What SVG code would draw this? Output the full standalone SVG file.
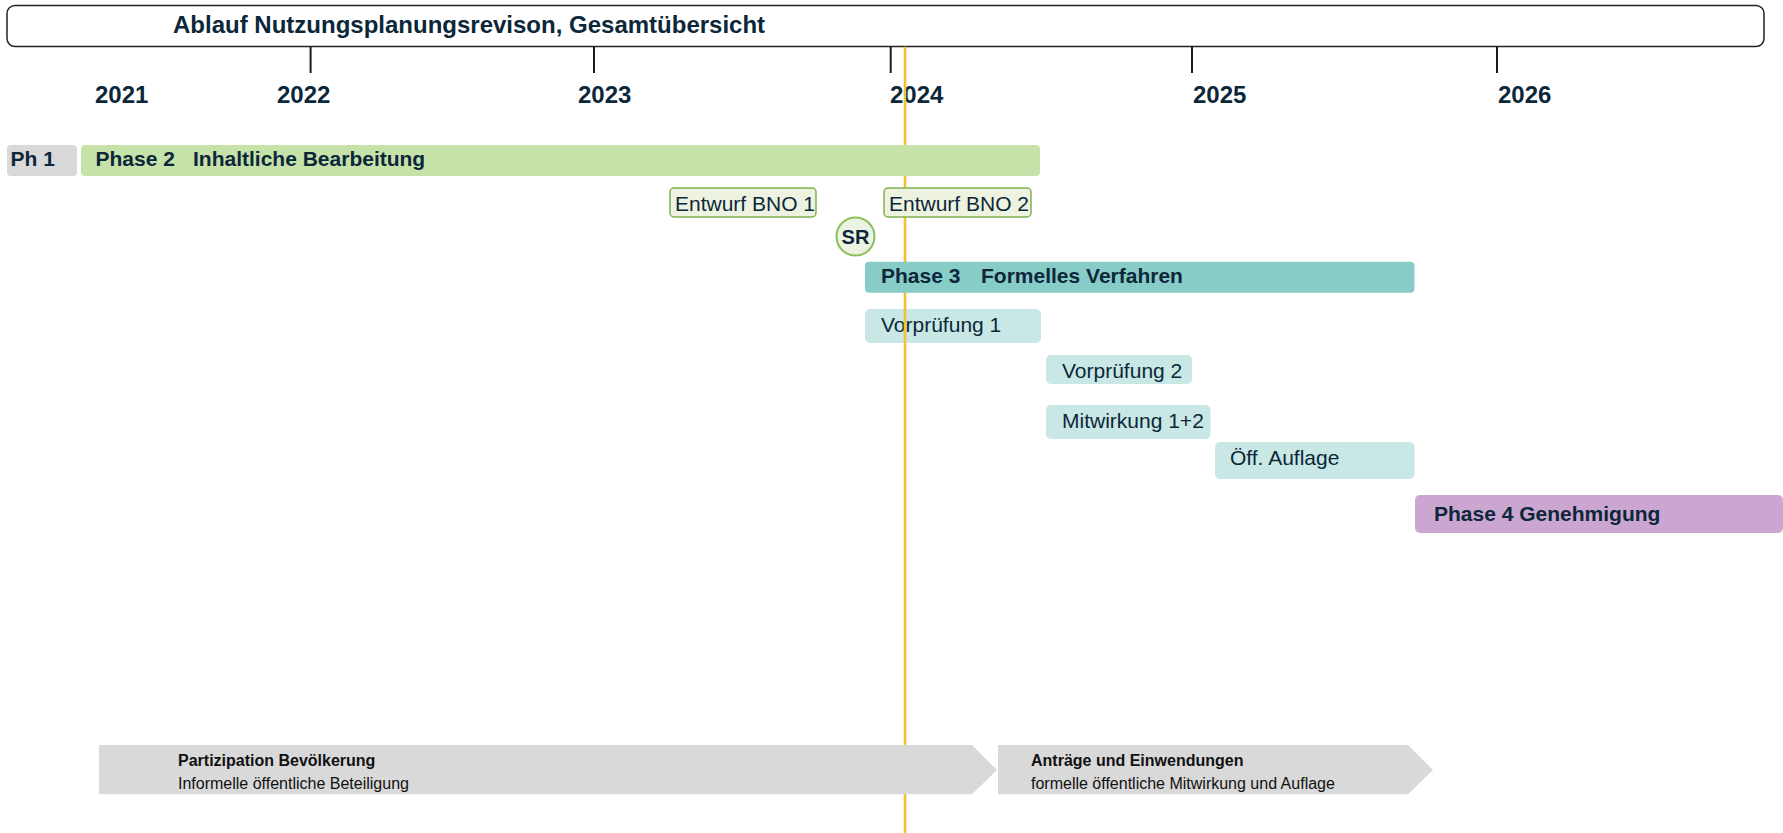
<svg xmlns="http://www.w3.org/2000/svg" width="1783" height="833" viewBox="0 0 1783 833">
<style>
text{font-family:"Liberation Sans",Arial,sans-serif;fill:#0c2739}
.b{font-weight:bold}
.t{font-size:24px;font-weight:bold}
.y{font-size:24px;font-weight:bold}
.p{font-size:21px;font-weight:bold}
.s{font-size:21px}
.a{font-size:16px;fill:#111}
.tick{stroke:#1a1a1a;stroke-width:2}
.ent{fill:#eef3e1;stroke:#7fb24e;stroke-width:1.5}
.sub{fill:#c8e7e5}
.arr{fill:#d9d9d9}
</style>
<rect width="1783" height="833" fill="#ffffff"/>
<g id="title">
<rect x="7" y="5.5" width="1757" height="41" rx="8" fill="#ffffff" stroke="#222" stroke-width="1.5"/>
<text class="t" x="173" y="33">Ablauf Nutzungsplanungsrevison, Gesamtübersicht</text>
</g>
<g id="axis">
<line class="tick" x1="310.6" y1="46.7" x2="310.6" y2="73"/>
<line class="tick" x1="594" y1="46.7" x2="594" y2="73"/>
<line class="tick" x1="890.7" y1="46.7" x2="890.7" y2="73"/>
<line class="tick" x1="1192" y1="46.7" x2="1192" y2="73"/>
<line class="tick" x1="1497" y1="46.7" x2="1497" y2="73"/>
<text class="y" x="95" y="103">2021</text>
<text class="y" x="277" y="103">2022</text>
<text class="y" x="578" y="103">2023</text>
<text class="y" x="890" y="103">2024</text>
<text class="y" x="1193" y="103">2025</text>
<text class="y" x="1498" y="103">2026</text>
</g>
<g id="vorpruefung1">
<rect class="sub" x="865" y="309" width="176" height="34" rx="5"/>
<text class="s" x="881" y="332">Vorprüfung 1</text>
</g>
<g id="connectors">
<line x1="905" y1="46.7" x2="905" y2="833" stroke="#f1c232" stroke-width="2.6"/>
</g>
<g id="ph1">
<rect x="7" y="145" width="70" height="31" rx="4" fill="#d9d9d9"/>
<text class="p" x="10.5" y="166">Ph 1</text>
</g>
<g id="phase2">
<rect x="81" y="145" width="959" height="31" rx="4" fill="#c6e2a9"/>
<text class="p" x="95.5" y="166">Phase 2</text>
<text class="p" x="193" y="166">Inhaltliche Bearbeitung</text>
</g>
<g id="entwurf1">
<rect class="ent" x="670" y="188" width="146" height="29" rx="4"/>
<text class="s" x="675" y="211">Entwurf BNO 1</text>
</g>
<g id="entwurf2">
<rect class="ent" x="884" y="188" width="147" height="29" rx="4"/>
<text class="s" x="889" y="211">Entwurf BNO 2</text>
</g>
<g id="sr">
<circle cx="855.5" cy="236.5" r="19" fill="#edf3e2" stroke="#8cbf5a" stroke-width="2"/>
<text class="b" x="855.5" y="244" font-size="20" text-anchor="middle">SR</text>
</g>
<g id="phase3">
<rect x="865" y="261.7" width="549.5" height="31" rx="4" fill="#88ccc8"/>
<text class="p" x="881" y="283">Phase 3</text>
<text class="p" x="981" y="283">Formelles Verfahren</text>
</g>
<g id="vorpruefung2">
<rect class="sub" x="1046" y="355" width="146" height="29" rx="5"/>
<text class="s" x="1062" y="378">Vorprüfung 2</text>
</g>
<g id="mitwirkung">
<rect class="sub" x="1046" y="405" width="164.5" height="34" rx="5"/>
<text class="s" x="1062" y="428">Mitwirkung 1+2</text>
</g>
<g id="auflage">
<rect class="sub" x="1215" y="442" width="199.5" height="37" rx="5"/>
<text class="s" x="1230" y="465">Öff. Auflage</text>
</g>
<g id="phase4">
<rect x="1415" y="495" width="368" height="38" rx="5" fill="#cba6d1"/>
<text class="p" x="1434" y="520.5">Phase 4 Genehmigung</text>
</g>
<g id="partizipation">
<polygon class="arr" points="99,745 972,745 997,770 972,794.3 99,794.3"/>
<text class="a b" x="178" y="766">Partizipation Bevölkerung</text>
<text class="a" x="178" y="789">Informelle öffentliche Beteiligung</text>
</g>
<g id="antraege">
<polygon class="arr" points="998,745 1408,745 1433,770 1408,794.3 998,794.3"/>
<text class="a b" x="1031" y="766">Anträge und Einwendungen</text>
<text class="a" x="1031" y="789">formelle öffentliche Mitwirkung und Auflage</text>
</g>
</svg>
